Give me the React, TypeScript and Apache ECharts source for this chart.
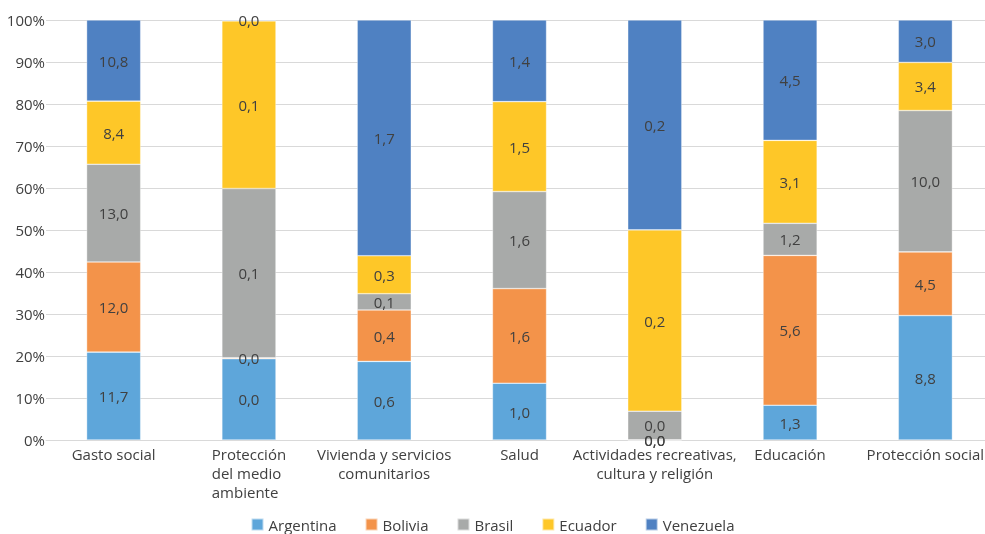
import React, { useEffect, useRef } from "react";
import * as echarts from "echarts";

const categories = [
  "Gasto social",
  "Protección del medio ambiente",
  "Vivienda y servicios comunitarios",
  "Salud",
  "Actividades recreativas, cultura y religión",
  "Educación",
  "Protección social",
];

const countries = ["Argentina", "Bolivia", "Brasil", "Ecuador", "Venezuela"];
const colors = ["#5EA6DA", "#F3934A", "#A8AAA9", "#FEC728", "#4F81C2"];

const argentina = [11.7, 0.048, 0.58, 0.96, 0.0001, 1.3, 8.8];
const bolivia = [12.0, 0.0005, 0.38, 1.6, 0.0001, 5.6, 4.5];
const brasil = [13.0, 0.1, 0.12, 1.64, 0.03, 1.2, 10.0];
const ecuador = [8.4, 0.099, 0.28, 1.52, 0.19, 3.1, 3.4];
const venezuela = [10.8, 0.0005, 1.74, 1.38, 0.22, 4.5, 3.0];

const yTicks = [0, 10, 20, 30, 40, 50, 60, 70, 80, 90, 100];

const rawSeries = [argentina, bolivia, brasil, ecuador, venezuela];

const categoryLabels: Record<string, string> = {
  "Gasto social": "Gasto social",
  "Protección del medio ambiente": "{l|Protección}\n{l|del medio}\n{l|ambiente}",
  "Vivienda y servicios comunitarios": "Vivienda y servicios\ncomunitarios",
  "Salud": "Salud",
  "Actividades recreativas, cultura y religión": "Actividades recreativas,\ncultura y religión",
  "Educación": "Educación",
  "Protección social": "Protección social",
};

const FONT = "'Open Sans', 'Noto Sans', sans-serif";

export default function App() {
  const ref = useRef<HTMLDivElement>(null);

  useEffect(() => {
    if (!ref.current) return;
    const chart = echarts.init(ref.current, undefined, { renderer: "svg" });
    const totals = categories.map((_, i) =>
      rawSeries.reduce((s, arr) => s + arr[i], 0)
    );

    const series = countries.map((name, si) => ({
      name,
      type: "bar",
      stack: "total",
      barWidth: "40%",
      itemStyle: { color: colors[si], borderColor: "rgba(255,255,255,0.6)", borderWidth: 0.6 },
      label: {
        show: true,
        position: "inside",
        color: "#404040",
        fontSize: 15,
        fontFamily: FONT,
        formatter: (p: any) =>
          rawSeries[si][p.dataIndex].toFixed(1).replace(".", ","),
      },
      data: categories.map((_, i) => (rawSeries[si][i] / totals[i]) * 100),
    }));

    chart.setOption({
      animation: false,
      textStyle: { fontFamily: FONT },
      grid: {
        left: 46,
        right: -8,
        top: 20,
        bottom: 94,
        containLabel: false,
        outerBoundsMode: "none",
      },
      legend: {
        data: countries,
        top: 512,
        left: "center",
        icon: "rect",
        itemWidth: 12,
        itemHeight: 12,
        itemGap: 28,
        textStyle: { fontSize: 15, color: "#404040", fontFamily: FONT },
      },
      xAxis: {
        type: "category",
        data: categories,
        axisLine: { lineStyle: { color: "#D9D9D9", width: 1 } },
        axisTick: { show: false },
        axisLabel: {
          interval: 0,
          margin: 4,
          color: "#404040",
          fontSize: 15,
          lineHeight: 19,
          fontFamily: FONT,
          formatter: (v: string) => categoryLabels[v] ?? v,
          rich: {
            l: {
              align: "left",
              fontSize: 15,
              lineHeight: 19,
              color: "#404040",
              fontFamily: FONT,
            },
          },
        },
      },
      yAxis: {
        type: "value",
        min: yTicks[0],
        max: yTicks[yTicks.length - 1],
        interval: 10,
        axisLine: { show: false },
        axisTick: { show: false },
        splitLine: { lineStyle: { color: "#D9D9D9", width: 1 } },
        axisLabel: {
          color: "#404040",
          fontSize: 15,
          margin: 1,
          fontFamily: FONT,
          formatter: (v: number) => `${v}%`,
        },
      },
      series,
    });

    return () => chart.dispose();
  }, []);

  return (
    <div
      ref={ref}
      style={{ position: "fixed", left: 0, top: 0, width: 985, height: 534 }}
    />
  );
}
